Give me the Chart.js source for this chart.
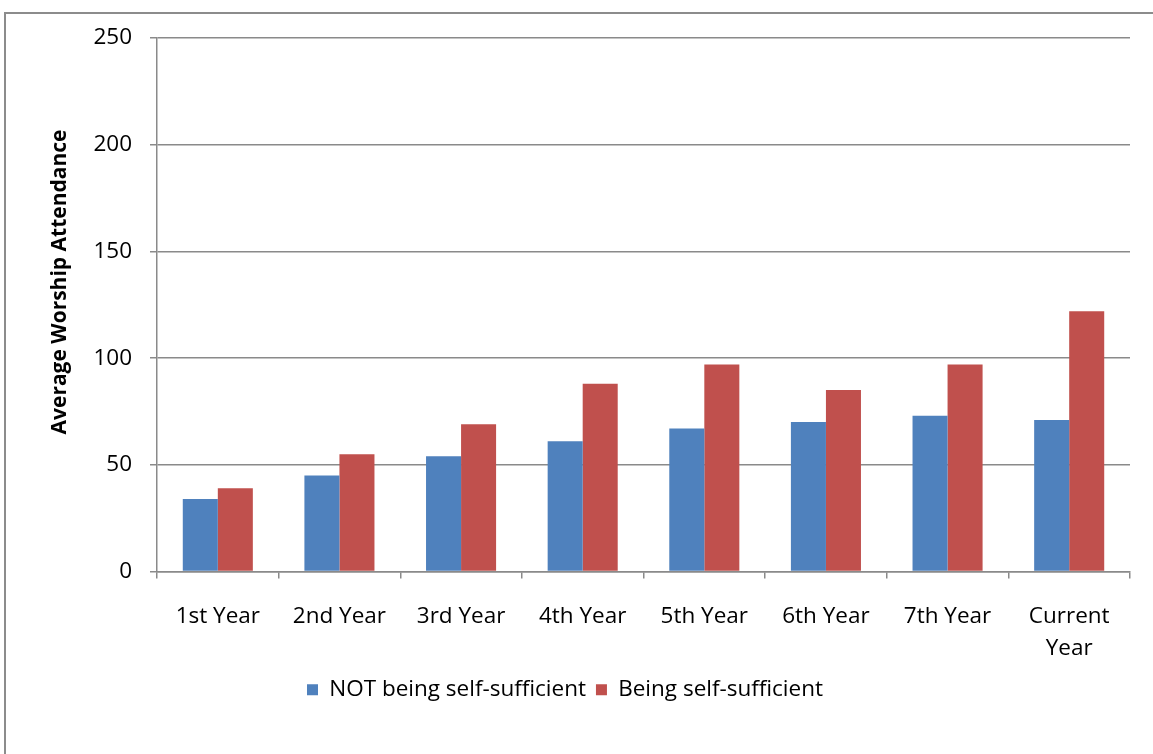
<!DOCTYPE html>
<html>
<head>
<meta charset="utf-8">
<script src="https://cdn.jsdelivr.net/npm/chart.js@4"></script>
<style>
  html, body { margin: 0; padding: 0; background: #fff; overflow: hidden; width: 1153px; height: 754px; }
  #frame { position: absolute; left: 4px; top: 12px; width: 2000px; height: 2000px; border: 2px solid #8c8c8c; box-sizing: border-box; }
  #title { position: absolute; left: 0; width: 1170px; top: -29px; text-align: center; font: bold 26px "Open Sans", sans-serif; line-height: 26px; color: #9e2a52; white-space: nowrap; }
  #wrap { position: absolute; left: 0; top: 0; width: 1170px; height: 760px; }
</style>
</head>
<body>
<div id="title">Average Worship Attendance by Year (self-sufficiency of new congregations)</div>
<div id="frame"></div>
<div id="wrap"><canvas id="c" width="1170" height="760"></canvas></div>
<script>
const categories = [["1st Year"], ["2nd Year"], ["3rd Year"], ["4th Year"], ["5th Year"], ["6th Year"], ["7th Year"], ["Current", "Year"]];
const seriesNames = ["NOT being self-sufficient", "Being self-sufficient"];
const notSelfSufficient = [34, 45, 54, 61, 67, 70, 73, 71];
const selfSufficient = [39, 55, 69, 88, 97, 85, 97, 122];
const yTicks = [0, 50, 100, 150, 200, 250];
const yTitle = "Average Worship Attendance";

const FONT = "Open Sans";
const GRID = "#8a8a8a";

const yTitlePlugin = {
  id: 'yTitlePlugin',
  afterDraw(chart) {
    const ctx = chart.ctx;
    ctx.save();
    ctx.translate(60, 282);
    ctx.rotate(-Math.PI / 2);
    ctx.font = "bold 21px '" + FONT + "'";
    ctx.fillStyle = "#000";
    ctx.textAlign = "center";
    ctx.textBaseline = "middle";
    ctx.fillText(yTitle, 0, 0);
    ctx.restore();
  }
};

new Chart(document.getElementById('c'), {
  type: 'bar',
  data: {
    labels: categories,
    datasets: [
      { label: seriesNames[0], data: notSelfSufficient, backgroundColor: '#4f81bd', borderWidth: 0 },
      { label: seriesNames[1], data: selfSufficient, backgroundColor: '#c0504d', borderWidth: 0 }
    ]
  },
  options: {
    responsive: false,
    animation: false,
    devicePixelRatio: 1,
    layout: { padding: { top: 38, right: 40, left: 0, bottom: 49 } },
    datasets: { bar: { categoryPercentage: 0.576, barPercentage: 1.0 } },
    plugins: {
      legend: {
        position: 'bottom',
        labels: { boxWidth: 11, boxHeight: 11, padding: 10, color: '#000', font: { family: FONT, size: 22.5 } }
      },
      tooltip: { enabled: false },
      title: { display: false }
    },
    scales: {
      x: {
        offset: true,
        grid: { display: true, drawOnChartArea: false, drawTicks: true, tickLength: 7, color: GRID, lineWidth: 1.5, offset: true },
        border: { display: true, color: GRID, width: 1.5 },
        ticks: { color: '#000', padding: 22, maxRotation: 0, autoSkip: false, font: { family: FONT, size: 22.5, lineHeight: 1.42 } },
        afterFit(s) { s.height = 97; }
      },
      y: {
        min: 0, max: 250,
        afterBuildTicks(s) { s.ticks = yTicks.map(v => ({ value: v })); },
        grid: { color: GRID, lineWidth: 1.5, drawTicks: true, tickLength: 7 },
        border: { display: true, color: GRID, width: 1.5 },
        ticks: { color: '#000', padding: 18, font: { family: FONT, size: 22.5 } },
        afterFit(s) { s.width = 157; }
      }
    }
  },
  plugins: [yTitlePlugin]
});
</script>
</body>
</html>
